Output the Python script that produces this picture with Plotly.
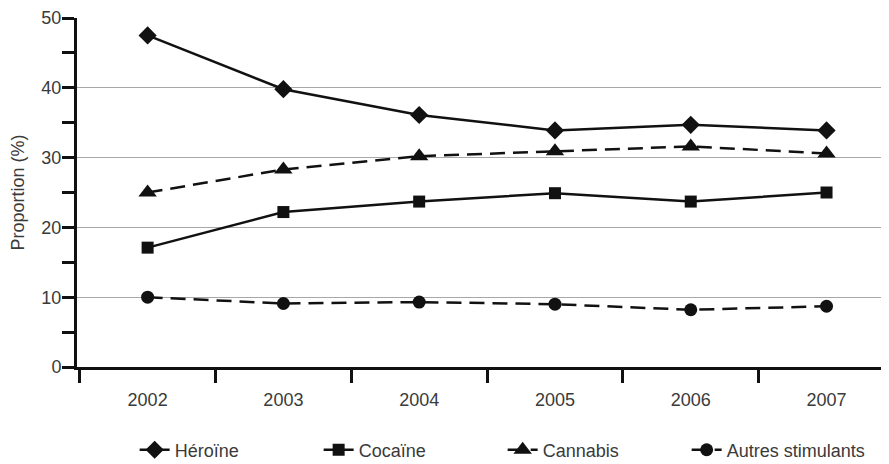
import plotly.graph_objects as go

years = ["2002", "2003", "2004", "2005", "2006", "2007"]
heroine = [47.5, 39.8, 36.1, 33.9, 34.7, 33.9]
cocaine = [17.1, 22.2, 23.7, 24.9, 23.7, 25.0]
cannabis = [25.0, 28.3, 30.2, 30.9, 31.6, 30.6]
autres = [10.0, 9.1, 9.3, 9.0, 8.2, 8.7]

series = [
    ("Héroïne", heroine, "diamond", 14, "solid"),
    ("Cocaïne", cocaine, "square", 12, "solid"),
    ("Cannabis", cannabis, "triangle-up", 16, "15px,8px"),
    ("Autres stimulants", autres, "circle", 13, "15px,8px"),
]

fig = go.Figure()
for name, vals, sym, size, dash in series:
    fig.add_trace(go.Scatter(
        x=years, y=vals, name=name, mode="lines+markers",
        line=dict(color="#111111", width=2.5, dash=dash),
        marker=dict(symbol=sym, size=size, color="#111111"),
    ))

font = "Liberation Sans, Arial, sans-serif"
fig.update_layout(
    width=881, height=456,
    margin=dict(l=69, r=0, t=10, b=97, autoexpand=False),
    paper_bgcolor="white", plot_bgcolor="white",
    font=dict(family=font, size=18, color="#3a3a3a"),
    showlegend=True,
    legend=dict(orientation="h", x=0.071, xanchor="left", y=-0.238, yanchor="middle",
                font=dict(size=18, color="#3a3a3a"), entrywidth=139, entrywidthmode="pixels",
                bgcolor="rgba(0,0,0,0)"),
    xaxis=dict(type="category", range=[-0.52, 5.46], tickson="boundaries",
               ticks="outside", ticklen=13, tickwidth=3, tickcolor="#111111",
               showline=True, linewidth=3, linecolor="#111111",
               showgrid=False, ticklabelstandoff=14,
               tickfont=dict(size=18, color="#3a3a3a")),
    yaxis=dict(range=[0, 50], dtick=10, tick0=0,
               ticks="outside", ticklen=12, tickwidth=3, tickcolor="#111111",
               showline=True, linewidth=3, linecolor="#111111",
               showgrid=True, gridcolor="#a8a8a8", gridwidth=1, zeroline=False,
               minor=dict(dtick=5, tick0=0, ticks="outside", ticklen=12, tickwidth=3,
                          tickcolor="#111111", showgrid=False),
               ticklabelstandoff=-3,
               tickfont=dict(size=18, color="#3a3a3a"),
               title=dict(text="Proportion (%)", font=dict(size=18, color="#3a3a3a"), standoff=19)),
)

fig.write_html("out.html")
